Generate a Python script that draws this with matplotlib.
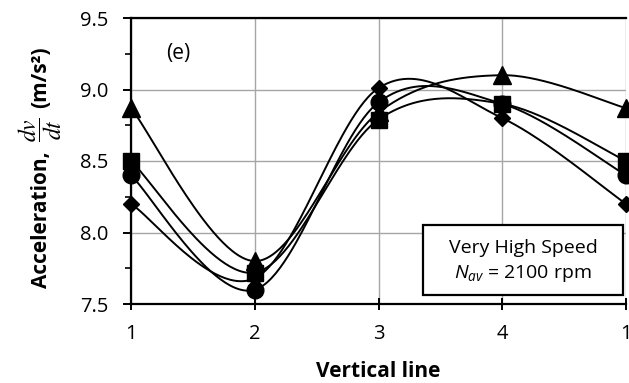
import numpy as np
import matplotlib
matplotlib.use("Agg")
import matplotlib.pyplot as plt
from matplotlib.patches import Rectangle

plt.rcParams['font.family'] = ['Open Sans', 'DejaVu Sans']
plt.rcParams['mathtext.fontset'] = 'custom'
plt.rcParams['mathtext.rm'] = 'Open Sans'
plt.rcParams['mathtext.it'] = 'Open Sans:italic'
plt.rcParams['mathtext.bf'] = 'Open Sans:bold'

# Measurement positions along the circumference (the fifth returns to line 1)
positions = [1, 2, 3, 4, 5]
tick_labels = ["1", "2", "3", "4", "1"]

accel_triangle = [8.87, 7.80, 8.84, 9.10, 8.87]
accel_square = [8.50, 7.72, 8.79, 8.90, 8.50]
accel_circle = [8.40, 7.60, 8.91, 8.90, 8.40]
accel_diamond = [8.20, 7.68, 9.01, 8.80, 8.20]

series = [
    (accel_triangle, "^", 13),
    (accel_square, "s", 11.5),
    (accel_circle, "o", 12),
    (accel_diamond, "D", 8.5),
]


def smooth_curve(x, y, n=60):
    """Cubic Bezier smoothing through every point (spreadsheet-style)."""
    x = np.asarray(x, float)
    y = np.asarray(y, float)
    xs, ys = [], []
    m = len(x)
    for i in range(m - 1):
        p0 = np.array([x[max(i - 1, 0)], y[max(i - 1, 0)]])
        p1 = np.array([x[i], y[i]])
        p2 = np.array([x[i + 1], y[i + 1]])
        p3 = np.array([x[min(i + 2, m - 1)], y[min(i + 2, m - 1)]])
        c1 = p1 + (p2 - p0) / 6.0
        c2 = p2 - (p3 - p1) / 6.0
        t = np.linspace(0, 1, n)[:, None]
        pts = ((1 - t) ** 3) * p1 + 3 * ((1 - t) ** 2) * t * c1 + 3 * (1 - t) * t ** 2 * c2 + t ** 3 * p2
        xs.append(pts[:, 0])
        ys.append(pts[:, 1])
    return np.concatenate(xs), np.concatenate(ys)


W, H = 629, 383
fig = plt.figure(figsize=(W / 100, H / 100), dpi=100)
ax = fig.add_axes([131 / W, 1 - 304 / H, (626 - 131) / W, (304 - 18) / H])

for vals, mk, ms in series:
    sx, sy = smooth_curve(positions, vals)
    ax.plot(sx, sy, color="black", lw=1.4, zorder=3, clip_on=False)
    ax.plot(positions, vals, linestyle="none", marker=mk, color="black",
            markersize=ms, zorder=4, clip_on=False)

ax.set_xlim(1, 5)
ax.set_ylim(7.5, 9.5)
ax.set_xticks(positions)
ax.set_xticklabels(tick_labels)
ax.set_yticks([7.5, 8.0, 8.5, 9.0, 9.5])
ax.set_yticklabels(["7.5", "8.0", "8.5", "9.0", "9.5"])
ax.set_yticks([7.75, 8.25, 8.75, 9.25], minor=True)

ax.grid(True, which="major", color="#a6a6a6", lw=1.0, zorder=0)
ax.set_axisbelow(True)

for side in ("left", "bottom", "top"):
    ax.spines[side].set_linewidth(1.6)
    ax.spines[side].set_color("black")
ax.spines["right"].set_visible(False)

ax.tick_params(axis="x", which="major", direction="inout", length=9, width=1.4,
               labelsize=14.5, pad=10, colors="black")
ax.tick_params(axis="y", which="major", direction="out", length=6, width=1.4,
               labelsize=14.5, pad=10, colors="black")
ax.tick_params(axis="y", which="minor", direction="out", length=4, width=1.2)

ax.set_xlabel("Vertical line", fontsize=15, fontweight="bold", labelpad=12)


def fig_px(x, y):
    """Convert pixel coordinates measured from the top-left to figure fraction."""
    return x / W, 1 - y / H


# Y-axis title assembled from text, a large fraction and the unit
fig.text(*fig_px(41, 220), "Acceleration,", rotation=90, fontsize=15,
         fontweight="bold", ha="center", va="center")
frac = fig.text(*fig_px(40, 130), r"$\dfrac{dv}{dt}$", rotation=90,
                fontsize=17, ha="center", va="center")
frac.set_math_fontfamily("stix")
fig.text(*fig_px(41, 77), "(m/s²)", rotation=90, fontsize=15,
         fontweight="bold", ha="center", va="center")

fig.text(*fig_px(178, 54), "(e)", fontsize=15, ha="center", va="center")

# Operating condition annotation box
box_x0, box_y0, box_x1, box_y1 = 423, 225, 623, 295
fig.patches.append(Rectangle((box_x0 / W, 1 - box_y1 / H),
                             (box_x1 - box_x0) / W, (box_y1 - box_y0) / H,
                             transform=fig.transFigure, facecolor="white",
                             edgecolor="black", lw=1.6, zorder=5))
fig.text(*fig_px(523, 248), "Very High Speed", fontsize=14,
         ha="center", va="center", zorder=6)
fig.text(*fig_px(523, 274), r"$N_{av}$ = 2100 rpm", fontsize=14,
         ha="center", va="center", zorder=6)

fig.savefig("out.png", dpi=100)
